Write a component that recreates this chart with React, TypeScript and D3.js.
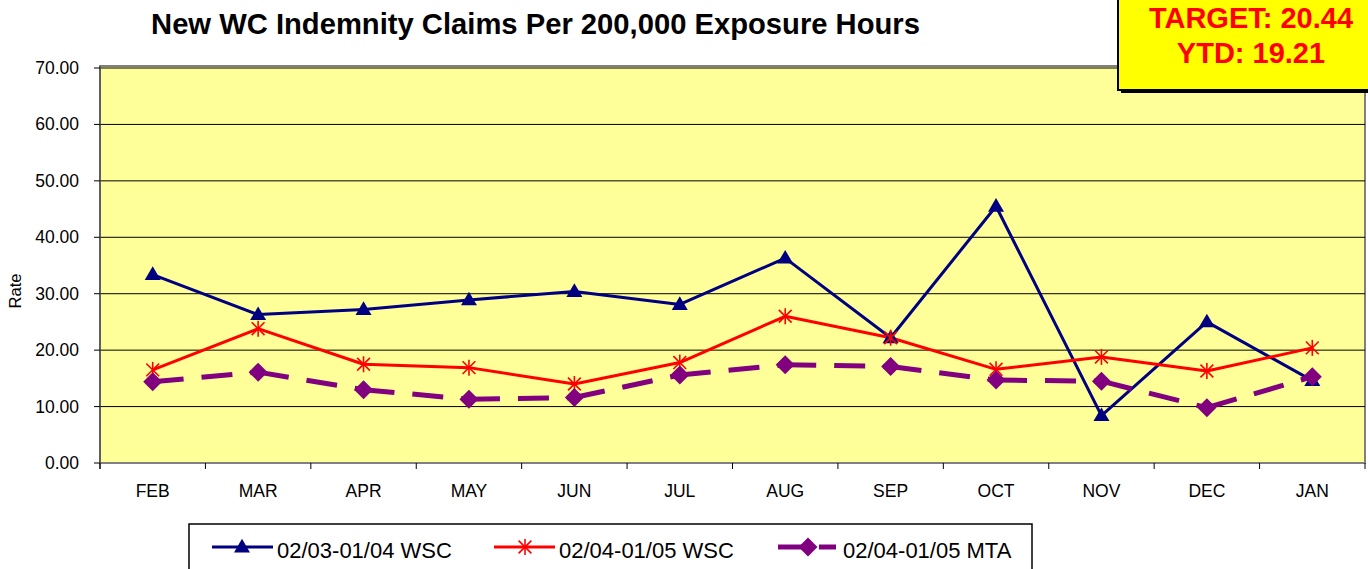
import React from "react";
import * as d3 from "d3";

const months = ["FEB", "MAR", "APR", "MAY", "JUN", "JUL", "AUG", "SEP", "OCT", "NOV", "DEC", "JAN"];
const wsc0304 = [33.4, 26.3, 27.2, 28.9, 30.4, 28.1, 36.3, 22.2, 45.5, 8.4, 25.0, 14.6];
const wsc0405 = [16.5, 23.8, 17.5, 16.9, 14.0, 17.8, 26.0, 22.2, 16.6, 18.8, 16.3, 20.4];
const mta0405 = [14.4, 16.1, 13.0, 11.3, 11.6, 15.6, 17.4, 17.1, 14.7, 14.5, 9.8, 15.3];
const yTicks = [0, 10, 20, 30, 40, 50, 60, 70];
const seriesNames = ["02/03-01/04 WSC", "02/04-01/05 WSC", "02/04-01/05 MTA"];
const titleText = "New WC Indemnity Claims Per 200,000 Exposure Hours";
const targetText = "TARGET: 20.44";
const ytdText = "YTD: 19.21";

const FONT = "'Liberation Sans', Arial, sans-serif";
const NAVY = "#000080";
const RED = "#FF0000";
const PURPLE = "#800080";

function Triangle({ x, y, s = 16 }: { x: number; y: number; s?: number }) {
  const h = s * 0.85;
  return (
    <path
      d={`M${x},${y - h * 0.6} L${x + s / 2},${y + h * 0.4} L${x - s / 2},${y + h * 0.4} Z`}
      fill={NAVY}
    />
  );
}

function Star({ x, y, r = 8 }: { x: number; y: number; r?: number }) {
  const d = r * 0.8;
  return (
    <g stroke={RED} strokeWidth={1.6}>
      <line x1={x} y1={y - r} x2={x} y2={y + r} />
      <line x1={x - d} y1={y - d} x2={x + d} y2={y + d} />
      <line x1={x - d} y1={y + d} x2={x + d} y2={y - d} />
    </g>
  );
}

function Diamond({ x, y, r = 9.5 }: { x: number; y: number; r?: number }) {
  return <path d={`M${x},${y - r} L${x + r},${y} L${x},${y + r} L${x - r},${y} Z`} fill={PURPLE} />;
}

export default function App() {
  const left = 100;
  const right = 1365;
  const x = d3.scaleBand<string>().domain(months).range([left, right]);
  const y = d3.scaleLinear().domain([0, 70]).range([463, 68]);
  const cx = (m: string) => (x(m) as number) + x.bandwidth() / 2;
  const line = d3
    .line<number>()
    .x((_, i) => cx(months[i]))
    .y((v) => y(v));

  const boundaries = d3.range(months.length + 1).map((i) => left + i * x.bandwidth());

  return (
    <svg width={1368} height={569} style={{ position: "absolute", left: 0, top: 0 }}>
      <rect x={0} y={0} width={1368} height={569} fill="#ffffff" />
      <text x={535.5} y={34} textAnchor="middle" fontFamily={FONT} fontWeight="bold" fontSize={29.2} fill="#000">
        {titleText}
      </text>

      <rect x={left} y={66} width={right - left} height={463 - 66} fill="#FFFF99" stroke="#808080" strokeWidth={2} />
      {yTicks.slice(1).map((t) => (
        <line key={t} x1={left} x2={right} y1={y(t)} y2={y(t)} stroke="#000" strokeWidth={1} />
      ))}
      <line x1={left} x2={right} y1={463} y2={463} stroke="#808080" strokeWidth={2} />
      <line x1={left} x2={left} y1={66} y2={469} stroke="#555" strokeWidth={1.5} />

      {yTicks.map((t) => (
        <g key={t}>
          <line x1={94} x2={left} y1={y(t)} y2={y(t)} stroke="#000" strokeWidth={1} />
          <text x={79} y={y(t) + 6} textAnchor="end" fontFamily={FONT} fontSize={17.5} fill="#000">
            {t.toFixed(2)}
          </text>
        </g>
      ))}
      <text
        transform={`translate(21,291) rotate(-90)`}
        textAnchor="middle"
        fontFamily={FONT}
        fontSize={16.5}
        fill="#000"
      >
        Rate
      </text>

      {boundaries.map((b, i) => (
        <line key={i} x1={b} x2={b} y1={463} y2={469} stroke="#000" strokeWidth={1} />
      ))}
      {months.map((m) => (
        <text key={m} x={cx(m)} y={497} textAnchor="middle" fontFamily={FONT} fontSize={17.5} fill="#000">
          {m}
        </text>
      ))}

      <path d={line(wsc0304) || ""} fill="none" stroke={NAVY} strokeWidth={3} strokeLinejoin="round" />
      <path d={line(wsc0405) || ""} fill="none" stroke={RED} strokeWidth={3} strokeLinejoin="round" />
      {mta0405.slice(1).map((v, i) => (
        <line
          key={i}
          x1={cx(months[i])}
          y1={y(mta0405[i])}
          x2={cx(months[i + 1])}
          y2={y(v)}
          stroke={PURPLE}
          strokeWidth={5}
          strokeDasharray="31 18"
        />
      ))}
      {wsc0304.map((v, i) => (
        <Triangle key={"t" + i} x={cx(months[i])} y={y(v)} />
      ))}
      {wsc0405.map((v, i) => (
        <Star key={"s" + i} x={cx(months[i])} y={y(v)} />
      ))}
      {mta0405.map((v, i) => (
        <Diamond key={"d" + i} x={cx(months[i])} y={y(v)} />
      ))}

      <rect x={1121} y={-5} width={260} height={98} fill="#000" />
      <rect x={1118} y={-6} width={260} height={96} fill="#FFFF00" stroke="#000" strokeWidth={2} />
      <text x={1251} y={28} textAnchor="middle" fontFamily={FONT} fontWeight="bold" fontSize={29} fill={RED}>
        {targetText}
      </text>
      <text x={1251} y={63} textAnchor="middle" fontFamily={FONT} fontWeight="bold" fontSize={29} fill={RED}>
        {ytdText}
      </text>

      <rect x={189} y={524} width={843} height={60} fill="#fff" stroke="#000" strokeWidth={1.5} />
      <line x1={212} x2={273} y1={547} y2={547} stroke={NAVY} strokeWidth={3} />
      <Triangle x={242} y={547} />
      <text x={277} y={558} fontFamily={FONT} fontSize={22} fill="#000">
        {seriesNames[0]}
      </text>
      <line x1={494} x2={555} y1={547} y2={547} stroke={RED} strokeWidth={3} />
      <Star x={525} y={547} />
      <text x={559} y={558} fontFamily={FONT} fontSize={22} fill="#000">
        {seriesNames[1]}
      </text>
      <line x1={778} x2={808} y1={547} y2={547} stroke={PURPLE} strokeWidth={5} />
      <line x1={819} x2={836} y1={547} y2={547} stroke={PURPLE} strokeWidth={5} />
      <Diamond x={808} y={547} />
      <text x={843} y={558} fontFamily={FONT} fontSize={22} fill="#000">
        {seriesNames[2]}
      </text>
    </svg>
  );
}
